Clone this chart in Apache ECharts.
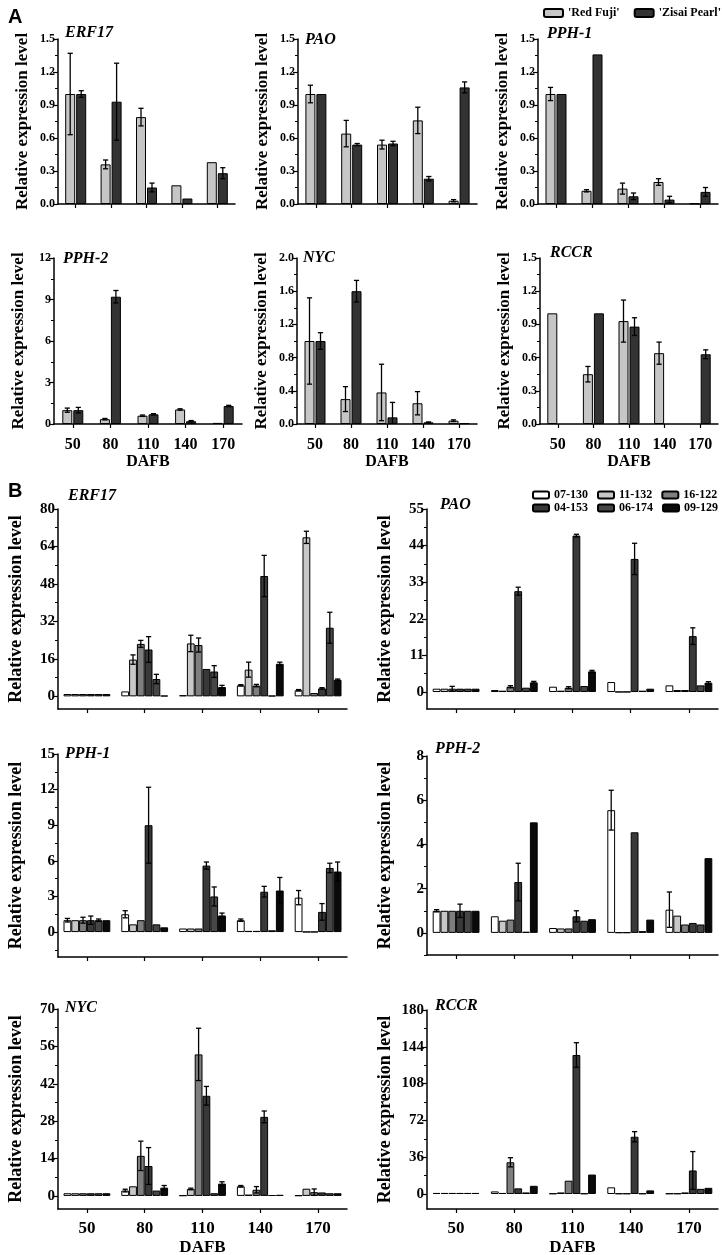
<!DOCTYPE html>
<html><head><meta charset="utf-8">
<script src="https://cdn.jsdelivr.net/npm/echarts@6/dist/echarts.min.js"></script>
<style>html,body{margin:0;padding:0;background:#fff}#c{width:722px;height:1255px}</style>
</head><body><div id="c"></div>
<script>
// ---------- categories / names ----------
const days = ['50','80','110','140','170'];
const cultivarsA = ["'Red Fuji'", "'Zisai Pearl'"];
const linesB = ['07-130','11-132','16-122','04-153','06-174','09-129'];

// ---------- tick labels ----------
const ticks_A_15 = [0,0.3,0.6,0.9,1.2,1.5];
const ticks_A_PPH2 = [0,3,6,9,12];
const ticks_A_NYC = [0,0.4,0.8,1.2,1.6,2.0];
const ticks_B_ERF17 = [0,16,32,48,64,80];
const ticks_B_PAO = [0,11,22,33,44,55];
const ticks_B_PPH1 = [0,3,6,9,12,15];
const ticks_B_PPH2 = [0,2,4,6,8];
const ticks_B_NYC = [0,14,28,42,56,70];
const ticks_B_RCCR = [0,36,72,108,144,180];

// ---------- Panel A data: rows = ['Red Fuji','Zisai Pearl'], cols = days ----------
const A_ERF17    = [[1.00,0.36,0.79,0.17,0.38],[1.00,0.93,0.15,0.05,0.28]];
const A_ERF17_sd = [[0.37,0.04,0.08,0,0],[0.03,0.35,0.04,0,0.05]];
const A_PAO      = [[1.00,0.64,0.54,0.76,0.03],[1.00,0.54,0.55,0.23,1.06]];
const A_PAO_sd   = [[0.08,0.12,0.04,0.12,0.01],[0,0.01,0.02,0.02,0.05]];
const A_PPH1     = [[1.00,0.12,0.14,0.20,0.005],[1.00,1.36,0.07,0.04,0.11]];
const A_PPH1_sd  = [[0.06,0.01,0.05,0.03,0],[0,0,0.03,0.03,0.04]];
const A_PPH2     = [[1.00,0.35,0.60,1.05,0.08],[1.00,9.20,0.70,0.20,1.30]];
const A_PPH2_sd  = [[0.15,0.05,0.05,0.05,0],[0.20,0.45,0.05,0.05,0.05]];
const A_NYC      = [[1.00,0.30,0.38,0.25,0.04],[1.00,1.60,0.08,0.02,0.01]];
const A_NYC_sd   = [[0.52,0.15,0.34,0.14,0.01],[0.10,0.13,0.18,0.005,0]];
const A_RCCR     = [[1.00,0.45,0.93,0.64,null],[null,1.00,0.88,null,0.63]];
const A_RCCR_sd  = [[0,0.07,0.19,0.10,0],[0,0,0.08,0,0.04]];

// ---------- Panel B data: rows = linesB, cols = days ----------
const B_ERF17 = [
  [1.0,2.1,0.5,4.7,2.6],[1.0,15.7,22.6,11.4,67.9],[1.0,22.4,21.9,4.6,1.4],
  [1.0,20.0,11.7,51.4,3.4],[1.0,7.4,10.6,0.3,29.3],[1.0,0.3,4.0,13.9,7.1]];
const B_ERF17_sd = [
  [0,0,0,0.3,0.3],[0,2.0,3.5,3.2,2.6],[0,1.5,3.0,0.5,0],
  [0,5.5,0,8.8,0.3],[0,2.0,2.5,0,6.6],[0,0,0.7,0.7,0.3]];
const B_PAO = [
  [1.0,0.6,1.6,3.0,2.0],[1.0,0.4,0.4,0.05,0.6],[1.0,1.6,1.3,0.05,0.6],
  [1.0,30.3,47.0,40.0,16.8],[1.0,1.3,1.8,0.4,2.0],[1.0,2.9,6.2,1.0,2.8]];
const B_PAO_sd = [
  [0,0,0,0,0],[0,0,0,0,0],[0.7,0.3,0.3,0,0],
  [0,1.2,0.4,4.7,2.5],[0,0,0,0,0],[0,0.3,0.3,0,0.3]];
const B_PPH1 = [
  [1.0,1.5,0.3,1.0,2.9],[1.0,0.65,0.3,0.1,0.02],[1.0,1.0,0.3,0.1,0.02],
  [1.0,9.0,5.6,3.4,1.7],[1.0,0.65,3.0,0.15,5.4],[1.0,0.4,1.4,3.5,5.1]];
const B_PPH1_sd = [
  [0.15,0.3,0,0.1,0.6],[0,0,0,0,0],[0.25,0,0,0,0],
  [0.35,3.2,0.3,0.45,0.7],[0.1,0,0.8,0,0.4],[0,0,0.2,1.1,0.8]];
const B_PPH2 = [
  [1.0,0.75,0.22,5.55,1.05],[1.0,0.55,0.2,0.02,0.78],[1.0,0.6,0.2,0.02,0.38],
  [1.0,2.3,0.75,4.55,0.45],[1.0,0.05,0.55,0.08,0.38],[1.0,5.0,0.62,0.6,3.38]];
const B_PPH2_sd = [
  [0.05,0,0,0.9,0.8],[0,0,0,0,0],[0,0,0,0,0],
  [0.3,0.85,0.25,0,0],[0,0,0,0,0],[0,0,0,0,0]];
const B_NYC = [
  [1.0,2.0,0.2,3.6,0.2],[1.0,3.6,2.6,0.5,2.7],[1.0,15.0,53.0,2.3,1.4],
  [1.0,11.2,37.5,29.6,1.3],[1.0,2.0,1.0,0.3,1.0],[1.0,3.1,4.6,0.4,1.0]];
const B_NYC_sd = [
  [0,0.5,0,0.3,0],[0,0,0.3,0,0],[0,5.5,9.8,1.2,1.2],
  [0,6.9,3.5,2.2,0],[0,0,0,0,0],[0,0.8,0.7,0,0]];
const B_RCCR = [
  [1.0,2.5,0.5,6.5,0.5],[1.0,1.0,1.5,0.5,0.5],[1.0,31,13,0.5,1.5],
  [1.0,5.5,136,56,23],[1.0,1.5,0.5,0.5,5],[1.0,8,19,3.5,6]];
const B_RCCR_sd = [
  [0,0,0,0,0],[0,0,0,0,0],[0,4.5,0,0,0],
  [0,0,12,5,18.5],[0,0,0,0,0],[0,0,0,0,0]];

// ---------- styles / layout ----------
const colorsA = ['#c6c6c6','#333333'];
const colorsB = ['#ffffff','#c8c8c8','#7e7e7e','#393939','#464646','#0a0a0a'];
const SERIF = 'Liberation Serif';

const styleA = {names:cultivarsA, colors:colorsA, barW:10, gap:0.1, tick:12, xl:16, yname:17, nameGap:27, xMargin:13, xNameGap:30};
const styleB = {names:linesB, colors:colorsB, barW:7.8, gap:0, tick:15, xl:17, yname:18, nameGap:33, xMargin:11, xNameGap:30};

const panels = [
  {g:'ERF17', m:A_ERF17, sd:A_ERF17_sd, t:ticks_A_15,  dec:1, s:styleA, r:[58,39,177,165],  min:0, tp:[60,20],  bottom:false},
  {g:'PAO',   m:A_PAO,   sd:A_PAO_sd,   t:ticks_A_15,  dec:1, s:styleA, r:[298,39,179,165], min:0, tp:[300,27], bottom:false},
  {g:'PPH-1', m:A_PPH1,  sd:A_PPH1_sd,  t:ticks_A_15,  dec:1, s:styleA, r:[538,39,180,165], min:0, tp:[542,21], bottom:false},
  {g:'PPH-2', m:A_PPH2,  sd:A_PPH2_sd,  t:ticks_A_PPH2,dec:0, s:styleA, r:[54,258,188,166], min:0, tp:[58,246], bottom:true},
  {g:'NYC',   m:A_NYC,   sd:A_NYC_sd,   t:ticks_A_NYC, dec:1, s:styleA, r:[297,258,180,166],min:0, tp:[298,245], bottom:true},
  {g:'RCCR',  m:A_RCCR,  sd:A_RCCR_sd,  t:ticks_A_15,  dec:1, s:styleA, r:[540,258,178,166],min:0, tp:[545,240], bottom:true},
  {g:'ERF17', m:B_ERF17, sd:B_ERF17_sd, t:ticks_B_ERF17,dec:0, s:styleB, r:[58,509,289,200],  min:-5.4, tp:[63,483], bottom:false},
  {g:'PAO',   m:B_PAO,   sd:B_PAO_sd,   t:ticks_B_PAO,  dec:0, s:styleB, r:[427,509,291,200], min:-5.1, tp:[435,492], bottom:false},
  {g:'PPH-1', m:B_PPH1,  sd:B_PPH1_sd,  t:ticks_B_PPH1, dec:0, s:styleB, r:[58,754,289,203],  min:-2.1, tp:[60,741], bottom:false},
  {g:'PPH-2', m:B_PPH2,  sd:B_PPH2_sd,  t:ticks_B_PPH2, dec:0, s:styleB, r:[427,756,291,199], min:-1.0, tp:[430,736], bottom:false},
  {g:'NYC',   m:B_NYC,   sd:B_NYC_sd,   t:ticks_B_NYC,  dec:0, s:styleB, r:[58,1009,289,200], min:-4.9, tp:[60,995], bottom:true},
  {g:'RCCR',  m:B_RCCR,  sd:B_RCCR_sd,  t:ticks_B_RCCR, dec:0, s:styleB, r:[427,1010,291,199],min:-14.7,tp:[430,993], bottom:true}
];

const grid = [], xAxis = [], yAxis = [], series = [];
const title = [
  {text:'A', left:3, top:2, textStyle:{fontFamily:'Liberation Sans', fontWeight:'bold', fontSize:20, color:'#000'}},
  {text:'B', left:3, top:476, textStyle:{fontFamily:'Liberation Sans', fontWeight:'bold', fontSize:20, color:'#000'}}
];

panels.forEach((p, gi) => {
  const s = p.s;
  const max = p.t[p.t.length-1];
  const step = p.t[1]-p.t[0];
  const minor = [];
  for (let k=0;k<p.t.length-1;k++) minor.push(p.t[k]+step/2);
  if (p.t[0]-step/2 >= p.min) minor.push(p.t[0]-step/2);
  grid.push({left:p.r[0], top:p.r[1], width:p.r[2], height:p.r[3], containLabel:false, outerBoundsMode:'none'});
  title.push({text:p.g, left:p.tp[0], top:p.tp[1],
    textStyle:{fontFamily:SERIF, fontStyle:'italic', fontWeight:'bold', fontSize:16, color:'#000'}});
  xAxis.push({type:'category', gridIndex:gi, data:days,
    axisLine:{show:true, onZero:false, lineStyle:{color:'#000', width:1.5}},
    axisTick:{show:true, alignWithLabel:true, length:4, lineStyle:{color:'#000', width:1.2}},
    axisLabel:{show:p.bottom, margin:s.xMargin, color:'#000', fontFamily:SERIF, fontWeight:'bold', fontSize:s.xl},
    name:p.bottom?'DAFB':'', nameLocation:'middle', nameGap:s.xNameGap,
    nameTextStyle:{color:'#000', fontFamily:SERIF, fontWeight:'bold', fontSize:s.xl},
    splitLine:{show:false}});
  const yi = yAxis.length;
  yAxis.push({type:'value', gridIndex:gi, min:p.min, max:max, position:'left',
    axisLine:{show:true, onZero:false, lineStyle:{color:'#000', width:1.5}},
    axisTick:{show:true, length:5, customValues:p.t, lineStyle:{color:'#000', width:1.2}},
    axisLabel:{show:true, customValues:p.t, margin:3, color:'#000', fontFamily:SERIF, fontWeight:'bold', fontSize:s.tick,
      formatter:v=>Number(v).toFixed(p.dec)},
    splitLine:{show:false},
    name:'Relative expression level', nameLocation:'middle', nameGap:s.nameGap,
    nameTextStyle:{color:'#000', fontFamily:SERIF, fontWeight:'bold', fontSize:s.yname}});
  yAxis.push({type:'value', gridIndex:gi, min:p.min, max:max, position:'left',
    axisLine:{show:false}, axisLabel:{show:false}, splitLine:{show:false},
    axisTick:{show:true, length:3, customValues:minor, lineStyle:{color:'#000', width:1}}});
  const n = s.names.length;
  s.names.forEach((nm, i) => {
    series.push({type:'bar', name:nm, xAxisIndex:gi, yAxisIndex:yi,
      data:p.m[i], barWidth:s.barW, barGap:(s.gap*100)+'%',
      itemStyle:{color:s.colors[i], borderColor:'#000', borderWidth:1},
      emphasis:{disabled:true}, animation:false});
    const off = (i-(n-1)/2)*s.barW*(1+s.gap);
    series.push({type:'custom', xAxisIndex:gi, yAxisIndex:yi, silent:true, animation:false, z:5,
      data:days.map((d,j)=>[j, p.m[i][j]==null?0:p.m[i][j], p.sd[i][j]]),
      encode:{x:0, y:1},
      renderItem:(params, api)=>{
        const j=api.value(0), m=api.value(1), e=api.value(2);
        if (!e) return;
        const lo = Math.max(m-e, p.min);
        const t = api.coord([j, m+e]), b = api.coord([j, lo]);
        const x = t[0]+off, c = 2.6;
        const st = {stroke:'#000', lineWidth:1.3};
        const ch = [
          {type:'line', shape:{x1:x,y1:t[1],x2:x,y2:b[1]}, style:st},
          {type:'line', shape:{x1:x-c,y1:t[1],x2:x+c,y2:t[1]}, style:st}];
        if (m-e >= p.min) ch.push({type:'line', shape:{x1:x-c,y1:b[1],x2:x+c,y2:b[1]}, style:st});
        return {type:'group', children:ch};
      }});
  });
});

const legTxt = {fontFamily:SERIF, fontWeight:'bold', fontSize:12, color:'#000'};
const legend = [
  {data:cultivarsA, left:543, top:7, width:400, orient:'horizontal', itemWidth:19, itemHeight:8, itemGap:14, icon:'roundRect', textStyle:legTxt, selectedMode:false, padding:0},
  {data:linesB.slice(0,3), left:532, top:489, width:400, orient:'horizontal', itemWidth:16, itemHeight:7, itemGap:9, icon:'roundRect', textStyle:legTxt, selectedMode:false, padding:0},
  {data:linesB.slice(3), left:532, top:502, width:400, orient:'horizontal', itemWidth:16, itemHeight:7, itemGap:9, icon:'roundRect', textStyle:legTxt, selectedMode:false, padding:0}
];

const chart = echarts.init(document.getElementById('c'), null, {renderer:'canvas'});
chart.setOption({backgroundColor:'#fff', animation:false, title, legend, grid, xAxis, yAxis, series});
</script></body></html>
